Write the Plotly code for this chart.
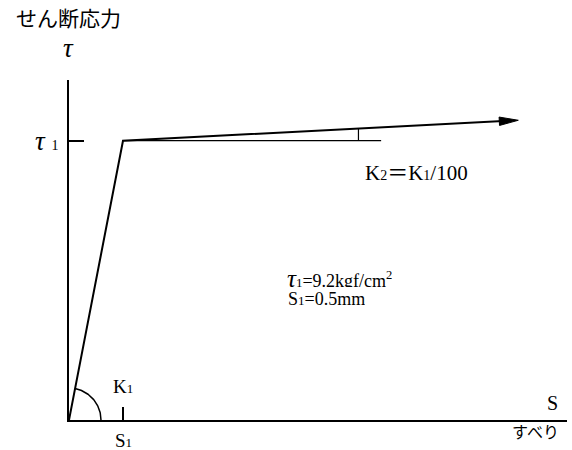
import numpy as np
import plotly.graph_objects as go

# Bilinear shear stress - slip model
S1 = 0.5            # slip at yield (mm)
TAU1 = 9.2          # yield shear stress (kgf/cm2)
K1 = TAU1 / S1      # initial stiffness
K2 = K1 / 100       # post-yield stiffness
S_END = 4.16        # end of drawn post-yield branch (mm)
S_REF = 2.89        # end of horizontal reference line (mm)
S_TRI = 2.68        # position of slope marker (mm)

# Figure geometry
W, H = 572, 450
ML, MR, MT, MB = 69, 5, 80, 30
X_RANGE = [0, 4.611]
Y_RANGE = [0, 11.2]
PW, PH = W - ML - MR, H - MT - MB
px_x = PW / (X_RANGE[1] - X_RANGE[0])
px_y = PH / (Y_RANGE[1] - Y_RANGE[0])

SERIF = "Liberation Serif, Noto Sans CJK JP, serif"
JP = "Noto Sans CJK JP, sans-serif"
INK = "black"

tau_end = TAU1 + K2 * (S_END - S1)
tau_tri = TAU1 + K2 * (S_TRI - S1)

# Arrow head (pixel-sized triangle at the end of the branch)
dxp = (S_END - S1) * px_x
dyp = (tau_end - TAU1) * px_y
ln = np.hypot(dxp, dyp)
ux, uy = dxp / ln, dyp / ln
HEAD_L, HEAD_W = 19, 4.2
bx, by = -HEAD_L * ux, -HEAD_L * uy
nx, ny = -uy, ux
head_x = [S_END, S_END + (bx + HEAD_W * nx) / px_x, S_END + (bx - HEAD_W * nx) / px_x, S_END]
head_y = [tau_end, tau_end + (by + HEAD_W * ny) / px_y, tau_end + (by - HEAD_W * ny) / px_y, tau_end]
base_x = S_END + (bx * 0.8) / px_x
base_y = tau_end + (by * 0.8) / px_y

# Angle arc for K1
R_PX = 32
theta_end = np.arctan2(TAU1 * px_y, S1 * px_x)
th = np.linspace(0, theta_end, 60)
arc_x = R_PX * np.cos(th) / px_x
arc_y = R_PX * np.sin(th) / px_y

fig = go.Figure()
line = dict(color=INK, width=2)

fig.add_trace(go.Scatter(x=[0, S1, base_x], y=[0, TAU1, base_y], mode="lines",
                         line=line, cliponaxis=False, hoverinfo="skip"))
fig.add_trace(go.Scatter(x=head_x, y=head_y, mode="lines", fill="toself",
                         fillcolor=INK, line=dict(color=INK, width=1),
                         cliponaxis=False, hoverinfo="skip"))
fig.add_trace(go.Scatter(x=[S1, S_REF], y=[TAU1, TAU1], mode="lines",
                         line=dict(color=INK, width=1.2), hoverinfo="skip"))
fig.add_trace(go.Scatter(x=[S_TRI, S_TRI], y=[TAU1, tau_tri], mode="lines",
                         line=dict(color=INK, width=1.2), hoverinfo="skip"))
fig.add_trace(go.Scatter(x=arc_x, y=arc_y, mode="lines",
                         line=dict(color=INK, width=1.5), cliponaxis=False,
                         hoverinfo="skip"))

ann = []


def label(text, x, y, size, family=SERIF, xref="x", yref="y", **kw):
    kw.setdefault("xanchor", "center")
    kw.setdefault("yanchor", "middle")
    ann.append(dict(text=text, x=x, y=y, xref=xref, yref=yref, showarrow=False,
                    font=dict(family=family, size=size, color=INK), **kw))


def px_label(text, px, py, size, family=SERIF, **kw):
    label(text, (px - ML) / PW, 1 - (py - MT) / PH, size, family,
          xref="paper", yref="paper", **kw)


def small(t, s=13):
    return "<span style='font-size:%dpx'>%s</span>" % (s, t)


px_label("せん断応力", 68, 17, 21, family=JP)
px_label("<i>τ</i>", 68, 48, 27)
label("<i>τ</i> " + small("1", 14), 0, TAU1, 27, xanchor="right", xshift=-9)
label("K" + small("1"), S1, 0, 19, yshift=34)
label("S" + small("1"), S1, 0, 19, yshift=-20)
px_label("S", 552, 403, 20)
px_label("すべり", 535, 431, 16, family=JP)
px_label("K" + small("2", 14) + "＝K" + small("1", 14) + "/100",
         363, 173, 21, xanchor="left")
px_label(small("<i>τ</i>", 25) + small("1") + "=9.2kgf/cm<sup>2</sup>",
         285, 278, 18, xanchor="left", height=18)
px_label("S" + small("1") + "=0.5mm", 286, 299, 18, xanchor="left", height=18)

axis = dict(showgrid=False, zeroline=False, showline=True, linecolor=INK,
            linewidth=2, ticks="inside", tickcolor=INK, tickwidth=1.5,
            showticklabels=False, fixedrange=True)

fig.update_layout(
    width=W, height=H,
    margin=dict(l=ML, r=MR, t=MT, b=MB, autoexpand=False),
    paper_bgcolor="white", plot_bgcolor="white",
    showlegend=False,
    xaxis=dict(axis, range=X_RANGE, tickvals=[S1], ticklen=13),
    yaxis=dict(axis, range=Y_RANGE, tickvals=[TAU1], ticklen=15),
    annotations=ann,
)

fig.write_html("out.html")
